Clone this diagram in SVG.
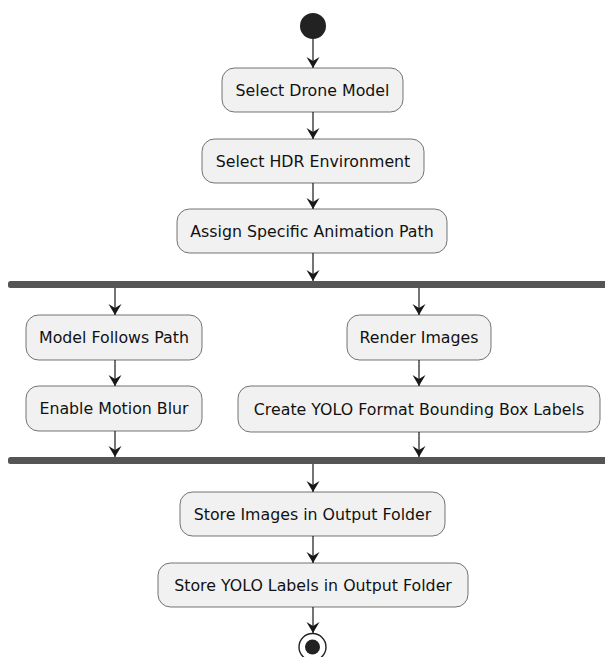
<svg xmlns="http://www.w3.org/2000/svg" width="605" height="657" viewBox="0 0 605 657">
  <style>
    .act rect { fill: #F1F1F1; stroke: #181818; stroke-width: 0.6; }
    .act text { font-family: "DejaVu Sans", Verdana, sans-serif; font-size: 15.8px; fill: #111; text-anchor: middle; }
    .bar { fill: #555555; }
    .edge { stroke: #181818; stroke-width: 1.2; fill: none; marker-end: url(#arrow); }
  </style>
  <defs>
    <marker id="arrow" markerWidth="14" markerHeight="14" refX="11" refY="6.5" orient="auto" markerUnits="userSpaceOnUse">
      <path d="M0,0 L11,6.5 L0,13 L4,6.5 Z" fill="#181818"/>
    </marker>
  </defs>
  <rect width="605" height="657" fill="#FFFFFF"/>

  <g id="start">
    <circle cx="313" cy="26" r="13" fill="#222222"/>
  </g>

  <g id="selectDrone" class="act">
    <rect x="222" y="68" width="181" height="44" rx="12.5"/>
    <text x="312.5" y="95.5">Select Drone Model</text>
  </g>
  <g id="selectHdr" class="act">
    <rect x="202" y="139" width="222" height="44" rx="12.5"/>
    <text x="313" y="166.5">Select HDR Environment</text>
  </g>
  <g id="assignPath" class="act">
    <rect x="177" y="209" width="270" height="44" rx="12.5"/>
    <text x="312" y="236.5">Assign Specific Animation Path</text>
  </g>

  <g id="fork">
    <rect class="bar" x="8" y="281" width="600" height="7" rx="2.5"/>
  </g>

  <g id="followPath" class="act">
    <rect x="26" y="315" width="176" height="45" rx="12.5"/>
    <text x="114" y="343">Model Follows Path</text>
  </g>
  <g id="motionBlur" class="act">
    <rect x="26" y="386" width="176" height="45" rx="12.5"/>
    <text x="114" y="414">Enable Motion Blur</text>
  </g>
  <g id="renderImages" class="act">
    <rect x="347" y="315" width="144" height="45" rx="12.5"/>
    <text x="419" y="343">Render Images</text>
  </g>
  <g id="yoloLabels" class="act">
    <rect x="238" y="386" width="362" height="46" rx="12.5"/>
    <text x="419" y="414.5">Create YOLO Format Bounding Box Labels</text>
  </g>

  <g id="join">
    <rect class="bar" x="8" y="457" width="600" height="7" rx="2.5"/>
  </g>

  <g id="storeImages" class="act">
    <rect x="180" y="492" width="265" height="44" rx="12.5"/>
    <text x="312.5" y="519.5">Store Images in Output Folder</text>
  </g>
  <g id="storeLabels" class="act">
    <rect x="158" y="563" width="310" height="44" rx="12.5"/>
    <text x="313" y="590.5">Store YOLO Labels in Output Folder</text>
  </g>

  <g id="end">
    <circle cx="312.5" cy="647" r="13.5" fill="none" stroke="#222222" stroke-width="1.4"/>
    <circle cx="312.5" cy="647" r="7.5" fill="#222222"/>
  </g>

  <g id="connectors">
    <line class="edge" x1="313" y1="39" x2="313" y2="68"/>
    <line class="edge" x1="313" y1="112" x2="313" y2="139"/>
    <line class="edge" x1="313" y1="183" x2="313" y2="209"/>
    <line class="edge" x1="313" y1="253" x2="313" y2="281"/>
    <line class="edge" x1="115" y1="288" x2="115" y2="315"/>
    <line class="edge" x1="115" y1="360" x2="115" y2="386"/>
    <line class="edge" x1="115" y1="431" x2="115" y2="457"/>
    <line class="edge" x1="419" y1="288" x2="419" y2="315"/>
    <line class="edge" x1="419" y1="360" x2="419" y2="386"/>
    <line class="edge" x1="419" y1="432" x2="419" y2="457"/>
    <line class="edge" x1="313" y1="464" x2="313" y2="492"/>
    <line class="edge" x1="313" y1="536" x2="313" y2="563"/>
    <line class="edge" x1="313" y1="607" x2="313" y2="633"/>
  </g>
</svg>
